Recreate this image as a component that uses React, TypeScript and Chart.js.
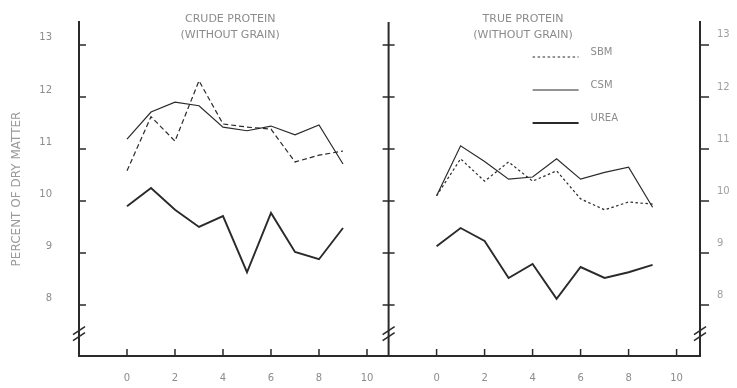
import React, { useEffect, useRef } from "react";
import { Chart, registerables } from "chart.js";

Chart.register(...registerables);

// ---- data ----
const weeks = [0, 1, 2, 3, 4, 5, 6, 7, 8, 9];
const crudeSBM = [10.58, 11.62, 11.15, 12.31, 11.48, 11.42, 11.38, 10.75, 10.88, 10.96];
const crudeCSM = [11.19, 11.71, 11.9, 11.83, 11.42, 11.35, 11.44, 11.27, 11.46, 10.71];
const crudeUREA = [9.9, 10.25, 9.83, 9.5, 9.71, 8.63, 9.77, 9.02, 8.88, 9.48];
const trueSBM = [10.1, 10.81, 10.38, 10.75, 10.38, 10.58, 10.04, 9.83, 9.98, 9.94];
const trueCSM = [10.1, 11.06, 10.76, 10.42, 10.46, 10.81, 10.42, 10.55, 10.65, 9.88];
const trueUREA = [9.13, 9.48, 9.23, 8.52, 8.79, 8.12, 8.73, 8.52, 8.63, 8.77];

const xTickLabels = [0, 2, 4, 6, 8, 10];
const yTickLabels = [8, 9, 10, 11, 12, 13];
const panelTitles = [
  ["CRUDE PROTEIN", "(WITHOUT GRAIN)"],
  ["TRUE PROTEIN", "(WITHOUT GRAIN)"],
];
const seriesNames = ["SBM", "CSM", "UREA"];
const yTitle = "PERCENT OF DRY MATTER";

// ---- layout constants ----
const RIGHT_OFFSET = 12.9; // x shift of the right panel
const MID_AXIS = 10.9; // position of the middle axis
const BREAK_VALUE = 7.45;
const FONT = '"DejaVu Sans", sans-serif';
const TEXT = "#8c8c8c";
const INK = "#2a2a2a";

const styles = [
  { width: 1.2, dashL: [5, 3], dashR: [2.5, 2.5] },
  { width: 1.2, dashL: [], dashR: [] },
  { width: 1.9, dashL: [], dashR: [] },
];

const toPts = (vals: number[], off: number) => vals.map((v, i) => ({ x: weeks[i] + off, y: v }));

const zeroPad = (s: any) => {
  s.paddingTop = 0;
  s.paddingBottom = 0;
  s.paddingLeft = 0;
  s.paddingRight = 0;
};

const decorPlugin = {
  id: "decor",
  afterDraw(chart: any) {
    const { ctx, chartArea } = chart;
    const xs = chart.scales.x;
    const ys = chart.scales.y;
    const top = chartArea.top;
    const bottom = chartArea.bottom;
    const left = chartArea.left;
    const right = chartArea.right;
    const mid = xs.getPixelForValue(MID_AXIS);
    ctx.save();
    ctx.strokeStyle = INK;
    ctx.lineCap = "butt";
    // middle axis
    ctx.lineWidth = 2;
    ctx.beginPath();
    ctx.moveTo(mid, top);
    ctx.lineTo(mid, bottom);
    ctx.stroke();
    // x tick marks
    ctx.lineWidth = 1.5;
    for (const t of xs.ticks) {
      const px = xs.getPixelForValue(t.value);
      ctx.beginPath();
      ctx.moveTo(px, bottom);
      ctx.lineTo(px, bottom - 7);
      ctx.stroke();
    }
    // y tick marks
    for (const v of yTickLabels) {
      const py = ys.getPixelForValue(v);
      ctx.beginPath();
      ctx.moveTo(left, py);
      ctx.lineTo(left + 7, py);
      ctx.moveTo(mid - 6, py);
      ctx.lineTo(mid + 6, py);
      ctx.moveTo(right, py);
      ctx.lineTo(right + 9, py);
      ctx.stroke();
    }
    // axis breaks
    const by = ys.getPixelForValue(BREAK_VALUE);
    ctx.lineWidth = 1.6;
    for (const ax of [left, mid, right]) {
      for (const d of [-3, 3]) {
        ctx.beginPath();
        ctx.moveTo(ax - 6, by + d + 4);
        ctx.lineTo(ax + 6, by + d - 4);
        ctx.stroke();
      }
    }
    // panel titles
    ctx.fillStyle = TEXT;
    ctx.font = `11px ${FONT}`;
    ctx.textAlign = "center";
    ctx.textBaseline = "middle";
    const centers = [xs.getPixelForValue(4.3), xs.getPixelForValue(RIGHT_OFFSET + 3.6)];
    panelTitles.forEach((lines, i) => {
      lines.forEach((s, j) => ctx.fillText(s, centers[i], 19 + j * 16));
    });
    // legend
    ctx.font = `10px ${FONT}`;
    const lx0 = xs.getPixelForValue(RIGHT_OFFSET + 4);
    const lx1 = lx0 + 46;
    const rows = [57, 90, 123];
    seriesNames.forEach((name, i) => {
      ctx.lineWidth = styles[i].width;
      ctx.setLineDash(styles[i].dashR);
      ctx.beginPath();
      ctx.moveTo(lx0, rows[i]);
      ctx.lineTo(lx1, rows[i]);
      ctx.stroke();
      ctx.setLineDash([]);
      ctx.textAlign = "left";
      ctx.fillText(name, lx1 + 12, rows[i] - 5);
    });
    ctx.restore();
  },
};

export default function App() {
  const ref = useRef<HTMLCanvasElement | null>(null);
  useEffect(() => {
    if (!ref.current) return;
    const mk = (label: string, vals: number[], off: number, i: number, right: boolean) => ({
      label,
      data: toPts(vals, off),
      borderColor: INK,
      borderWidth: styles[i].width,
      borderDash: right ? styles[i].dashR : styles[i].dashL,
      pointRadius: 0,
      tension: 0,
      fill: false,
    });
    const chart = new Chart(ref.current, {
      type: "line",
      data: {
        datasets: [
          mk("SBM", crudeSBM, 0, 0, false),
          mk("CSM", crudeCSM, 0, 1, false),
          mk("UREA", crudeUREA, 0, 2, false),
          mk("SBM", trueSBM, RIGHT_OFFSET, 0, true),
          mk("CSM", trueCSM, RIGHT_OFFSET, 1, true),
          mk("UREA", trueUREA, RIGHT_OFFSET, 2, true),
        ],
      },
      options: {
        animation: false,
        responsive: false,
        devicePixelRatio: 1,
        layout: { padding: { top: 22, left: 0, right: 0, bottom: 0 } },
        plugins: { legend: { display: false }, tooltip: { enabled: false }, title: { display: false } },
        scales: {
          x: {
            type: "linear",
            min: -2,
            max: 23.875,
            afterFit: (s: any) => {
              s.height = 32;
              zeroPad(s);
            },
            afterBuildTicks: (s: any) => {
              s.ticks = [
                ...xTickLabels.map((v) => ({ value: v })),
                ...xTickLabels.map((v) => ({ value: v + RIGHT_OFFSET })),
              ];
            },
            grid: { drawOnChartArea: false, drawTicks: false },
            border: { display: true, color: INK, width: 2 },
            ticks: {
              autoSkip: false,
              maxRotation: 0,
              padding: 16,
              color: TEXT,
              font: { family: FONT, size: 10 },
              callback: (v: any) => String(v > MID_AXIS ? Math.round(v - RIGHT_OFFSET) : Math.round(v)),
            },
          },
          y: {
            type: "linear",
            position: "left",
            min: 7.02,
            max: 13.44,
            afterFit: (s: any) => {
              s.width = 79;
              zeroPad(s);
            },
            afterBuildTicks: (s: any) => {
              s.ticks = yTickLabels.map((v) => ({ value: v }));
            },
            grid: { drawOnChartArea: false, drawTicks: false },
            border: { display: true, color: INK, width: 2 },
            ticks: { padding: 27, labelOffset: -7, color: TEXT, font: { family: FONT, size: 10 } },
            title: {
              display: true,
              text: yTitle,
              color: "#9a9a9a",
              font: { family: FONT, size: 12 },
              padding: { top: 10, bottom: 0 },
            },
          },
          y2: {
            type: "linear",
            position: "right",
            min: 7.02,
            max: 13.44,
            afterFit: (s: any) => {
              s.width = 37;
              zeroPad(s);
            },
            afterBuildTicks: (s: any) => {
              s.ticks = yTickLabels.map((v) => ({ value: v }));
            },
            grid: { drawOnChartArea: false, drawTicks: false },
            border: { display: true, color: INK, width: 2 },
            ticks: { padding: 17, labelOffset: -10, color: "#a0a0a0", font: { family: FONT, size: 10 } },
          },
        },
      },
      plugins: [decorPlugin],
    });
    return () => chart.destroy();
  }, []);
  return (
    <div style={{ position: "fixed", left: 0, top: 0, width: 737, height: 388, background: "#fff" }}>
      <canvas ref={ref} width={737} height={388} style={{ width: 737, height: 388, display: "block" }} />
    </div>
  );
}
